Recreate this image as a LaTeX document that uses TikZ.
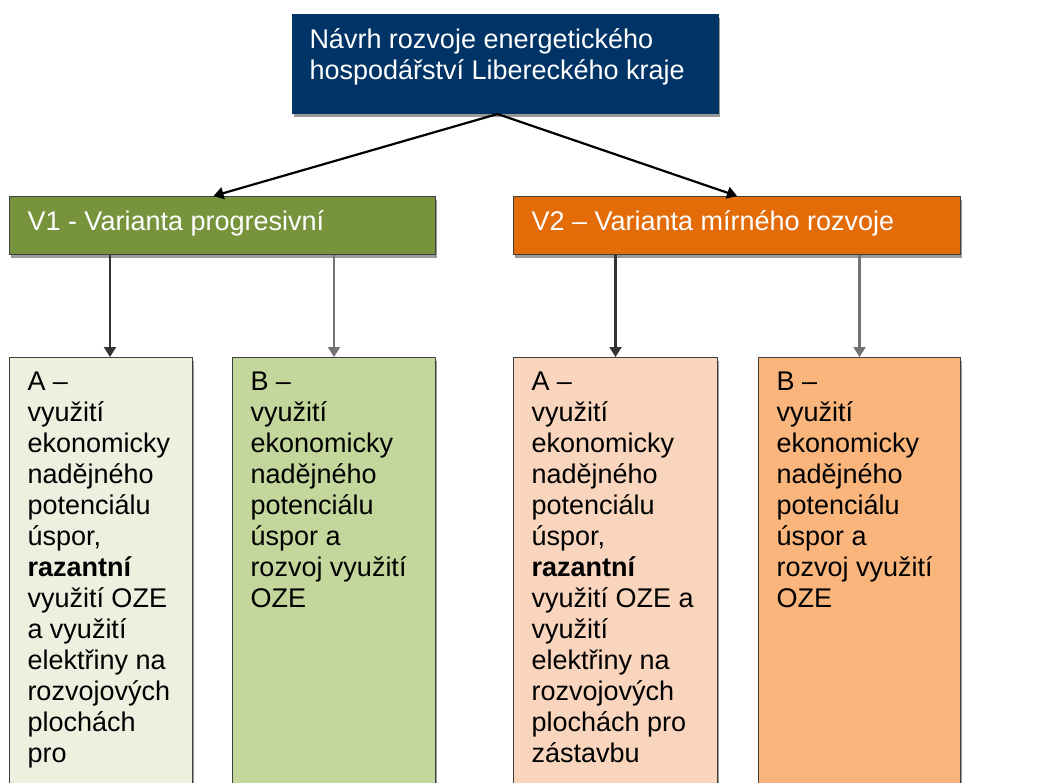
\documentclass[tikz,border=0pt]{standalone}
\usepackage{fontspec}
\setmainfont{Liberation Sans}
\usepackage{xcolor}
\usetikzlibrary{positioning, arrows.meta, shadows}

\definecolor{topblue}{RGB}{0,51,102}
\definecolor{v1green}{RGB}{119,147,60}
\definecolor{v2orange}{RGB}{227,108,9}
\definecolor{a1green}{RGB}{235,241,222}
\definecolor{b1green}{RGB}{195,214,155}
\definecolor{a2peach}{RGB}{250,213,190}
\definecolor{b2orange}{RGB}{249,181,124}

\begin{document}
\begin{tikzpicture}[x=1pt, y=-1pt,
    box/.style={anchor=north west, draw=black!75, line width=1pt,
        inner xsep=18pt, inner ysep=14pt, font=\fontsize{27}{31}\selectfont,
        drop shadow={shadow xshift=1pt, shadow yshift=-3pt, fill=black!40, opacity=1}},
    link/.style={line width=2.2pt, -{Triangle[width=12pt,length=10pt]}}]
    \useasboundingbox (0,0) rectangle (1040,782);
    % Top box
    \node[box, fill=topblue, draw=topblue, text=white, inner xsep=17pt] (top) at (292,14)
        {\parbox[t][71pt][t]{392pt}{Návrh rozvoje energetického\\hospodářství Libereckého kraje}};
    % Variants
    \node[box, fill=v1green, text=white] (v1) at (9,196)
        {\parbox[t][30pt][t]{390pt}{V1 - Varianta progresivní}};
    \node[box, fill=v2orange, text=white] (v2) at (513,196)
        {\parbox[t][30pt][t]{411pt}{V2 – Varianta mírného rozvoje}};
    % Sub-variants of V1
    \node[box, fill=a1green] (a1) at (9,357)
        {\parbox[t][410pt][t]{147pt}{\raggedright A –\\využití\\ekonomicky\\nadějného\\potenciálu\\úspor,\\\textbf{razantní}\\využití OZE\\a využití\\elektřiny na\\rozvojových\\plochách\\pro}};
    \node[box, fill=b1green] (b1) at (232,357)
        {\parbox[t][410pt][t]{167pt}{\raggedright B –\\využití\\ekonomicky\\nadějného\\potenciálu\\úspor a\\rozvoj využití\\OZE}};
    % Sub-variants of V2
    \node[box, fill=a2peach] (a2) at (513,357)
        {\parbox[t][410pt][t]{168pt}{\raggedright A –\\využití\\ekonomicky\\nadějného\\potenciálu\\úspor,\\\textbf{razantní}\\využití OZE a\\využití\\elektřiny na\\rozvojových\\plochách pro\\zástavbu}};
    \node[box, fill=b2orange] (b2) at (758,357)
        {\parbox[t][410pt][t]{166pt}{\raggedright B –\\využití\\ekonomicky\\nadějného\\potenciálu\\úspor a\\rozvoj využití\\OZE}};
    % Arrows from top
    \draw[link] ([xshift=-8pt]top.south) -- ([xshift=-9pt]v1.north);
    \draw[link] ([xshift=-8pt]top.south) -- (v2.north);
    % Arrows down
    \draw[link, black!80] ([xshift=9pt]a1.north |- v1.south) -- ([xshift=9pt]a1.north);
    \draw[link, black!55] (b1.north |- v1.south) -- (b1.north);
    \draw[link, black!80] (a2.north |- v2.south) -- (a2.north);
    \draw[link, black!55] (b2.north |- v2.south) -- (b2.north);
\end{tikzpicture}
\end{document}
